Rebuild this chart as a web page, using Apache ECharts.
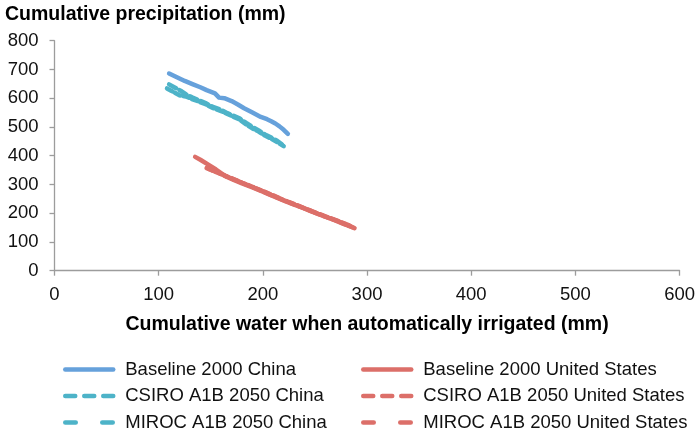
<!DOCTYPE html>
<html>
<head>
<meta charset="utf-8">
<script src="https://cdn.jsdelivr.net/npm/echarts@6/dist/echarts.min.js"></script>
<style>
html,body{margin:0;padding:0;background:#fff;}
#chart{width:698px;height:435px;}
</style>
</head>
<body>
<div id="chart"></div>
<script>
// ---- data ----
const seriesNames = [
  "Baseline 2000 China", "CSIRO A1B 2050 China", "MIROC A1B 2050 China",
  "Baseline 2000 United States", "CSIRO A1B 2050 United States", "MIROC A1B 2050 United States"
];
const xTicks = [0, 100, 200, 300, 400, 500, 600];
const yTicks = [0, 100, 200, 300, 400, 500, 600, 700, 800];

const baseChinaX = [110, 118, 125, 133, 140, 146, 154, 158, 163, 170, 176, 182, 190, 198, 204, 208, 212, 216, 220, 224];
const baseChinaY = [686, 672, 660, 648, 638, 628, 617, 602, 600, 590, 578, 565, 550, 535, 527, 520, 512, 502, 490, 476];

const csiroChinaX = [108, 112, 116, 120, 126, 132, 138, 145, 152, 160, 166, 172, 178, 184, 190, 196, 202, 208, 214, 220];
const csiroChinaY = [634, 626, 618, 610, 606, 597, 589, 579, 566, 555, 545, 535, 525, 509, 495, 484, 470, 459, 447, 433];

const mirocChinaX = [110, 114, 118, 122, 126, 132, 138, 145, 152, 160, 166, 172, 178, 184, 190, 196, 202, 208, 214, 219];
const mirocChinaY = [648, 640, 632, 624, 614, 603, 594, 583, 570, 559, 548, 539, 529, 514, 500, 488, 474, 463, 451, 438];

const baseUSX = [135, 140, 148, 155, 164, 172, 180, 190, 200, 206, 214, 222, 230, 238, 246, 254, 262, 270, 278, 284, 288];
const baseUSY = [396, 386, 368, 352, 329, 316, 304, 290, 275, 265, 253, 241, 230, 219, 207, 196, 185, 174, 162, 154, 148];

const csiroUSX = [146, 150, 156, 164, 172, 180, 190, 200, 210, 220, 230, 240, 250, 260, 270, 280, 286];
const csiroUSY = [357, 351, 342, 330, 318, 306, 292, 277, 262, 245, 231, 217, 202, 188, 175, 160, 151];

const mirocUSX = [148, 154, 162, 170, 180, 190, 200, 210, 220, 230, 240, 250, 260, 270, 278, 285];
const mirocUSY = [354, 345, 333, 321, 306, 291, 276, 260, 246, 232, 217, 203, 189, 176, 165, 154];

// ---- chart ----
const pair = (xs, ys) => xs.map((x, i) => [x, ys[i]]);
const BLUE = "#66a1db", TEAL = "#4db3c8", RED = "#dc6f69";
const FONT = "Liberation Sans";
const LW = 4.5;
// dash patterns shown in the legend
const DASH_SHORT = [10, 9];
const DASH_LONG = [10.5, 26.5];
// dense dashes in the plot (overlapping curves look almost solid, as in the reference)
const PLOT_SHORT = [6, 3];
const PLOT_LONG = [8, 4];

function mk(name, xs, ys, color, type) {
  return {
    name: name, type: "line", data: pair(xs, ys),
    symbol: "none", smooth: false,
    lineStyle: { color: color, width: LW, type: type, cap: "round", join: "round" },
    itemStyle: { color: color },
    emphasis: { disabled: true },
    animation: false
  };
}
function legItem(name, color, type) {
  return { name: name, lineStyle: { color: color, width: LW, type: type, cap: "round" }, itemStyle: { opacity: 0 } };
}

const chart = echarts.init(document.getElementById("chart"), null, { renderer: "canvas" });
const legendCommon = {
  orient: "vertical", top: 360, padding: 0, itemWidth: 48, itemHeight: 18, itemGap: 7.5,
  itemStyle: { opacity: 0 },
  textStyle: { fontFamily: FONT, fontSize: 18.5, color: "#111", padding: [0, 0, 0, 7] },
  selectedMode: false
};
chart.setOption({
  animation: false,
  textStyle: { fontFamily: FONT },
  title: {
    text: "Cumulative precipitation (mm)", left: 5, top: 5, padding: 0,
    textStyle: { fontFamily: FONT, fontSize: 19.5, fontWeight: "bold", color: "#000" }
  },
  grid: { left: 54.5, right: 18, top: 40.7, bottom: 164.3, containLabel: false },
  xAxis: {
    type: "value", min: xTicks[0], max: xTicks[xTicks.length - 1], interval: 100,
    name: "Cumulative water when automatically irrigated (mm)",
    nameLocation: "middle", nameGap: 44,
    nameTextStyle: { fontFamily: FONT, fontSize: 19.5, fontWeight: "bold", color: "#000" },
    axisLine: { show: true, lineStyle: { color: "#9c9c9c", width: 1.3 } },
    axisTick: { show: true, inside: false, length: 5, lineStyle: { color: "#9c9c9c", width: 1.3 } },
    axisLabel: { margin: 15, fontFamily: FONT, fontSize: 18.5, color: "#111" },
    splitLine: { show: false }
  },
  yAxis: {
    type: "value", min: yTicks[0], max: yTicks[yTicks.length - 1], interval: 100,
    axisLine: { show: true, lineStyle: { color: "#9c9c9c", width: 1.3 } },
    axisTick: { show: true, inside: false, length: 5, lineStyle: { color: "#9c9c9c", width: 1.3 } },
    axisLabel: { margin: 16, fontFamily: FONT, fontSize: 18.5, color: "#111" },
    splitLine: { show: false }
  },
  legend: [
    Object.assign({}, legendCommon, { left: 63, data: [
      legItem(seriesNames[0], BLUE, "solid"),
      legItem(seriesNames[1], TEAL, DASH_SHORT),
      legItem(seriesNames[2], TEAL, DASH_LONG)
    ] }),
    Object.assign({}, legendCommon, { left: 361, data: [
      legItem(seriesNames[3], RED, "solid"),
      legItem(seriesNames[4], RED, DASH_SHORT),
      legItem(seriesNames[5], RED, DASH_LONG)
    ] })
  ],
  series: [
    mk(seriesNames[0], baseChinaX, baseChinaY, BLUE, "solid"),
    mk(seriesNames[1], csiroChinaX, csiroChinaY, TEAL, PLOT_SHORT),
    mk(seriesNames[2], mirocChinaX, mirocChinaY, TEAL, PLOT_LONG),
    mk(seriesNames[3], baseUSX, baseUSY, RED, "solid"),
    mk(seriesNames[4], csiroUSX, csiroUSY, RED, PLOT_SHORT),
    mk(seriesNames[5], mirocUSX, mirocUSY, RED, PLOT_LONG)
  ]
});
</script>
</body>
</html>
